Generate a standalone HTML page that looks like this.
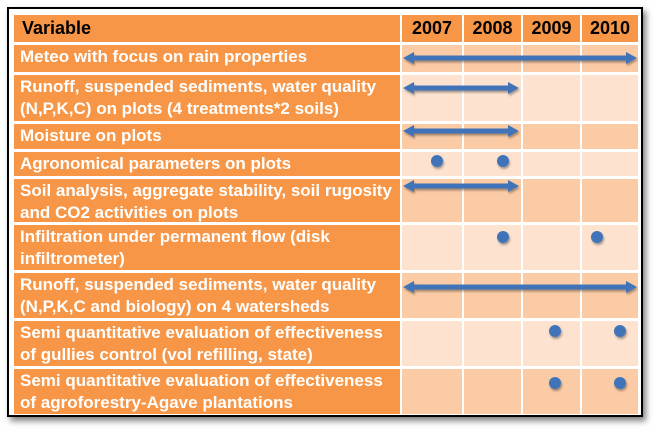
<!DOCTYPE html>
<html><head><style>
body{margin:0;width:657px;height:432px;background:#fff;position:relative;overflow:hidden;font-family:"Liberation Sans",sans-serif;}
.frame{position:absolute;left:7px;top:7px;width:632px;height:406px;border:2px solid #000;box-shadow:3px 4px 6px rgba(0,0,0,0.5);background:#fff;}
.c{position:absolute;box-sizing:border-box;white-space:nowrap;overflow:hidden;}
.h{background:#F79646;color:#000;font-weight:bold;font-size:18px;}
.v{background:#F79646;color:#fff;font-weight:bold;font-size:17px;line-height:22px;padding:1px 0 0 6px;}
.o{background:#FBCBA5;}
.e{background:#FDE3CF;}
</style></head><body>
<div class="frame"></div>
<div id="t"></div>
<svg width="657" height="432" style="position:absolute;left:0;top:0">
<defs><filter id="s"><feDropShadow dx="1" dy="2" stdDeviation="1" flood-opacity="0.35"/></filter></defs>
<g fill="#3F73B8" stroke="#3F73B8" filter="url(#s)">
<g id="arrows"></g>
</g>
</svg>
<script>
var cols=[[14,400],[402,462],[464,521],[523,580],[582,638]];
var rows=[[15,42],[45,72],[75,121],[124,149],[152,176],[179,222],[225,270],[273,318],[321,366],[369,414]];
var labels=["Meteo with focus on rain properties","Runoff, suspended sediments, water quality<br>(N,P,K,C) on plots (4 treatments*2 soils)","Moisture on plots","Agronomical parameters on plots","Soil analysis, aggregate stability, soil rugosity<br>and CO2 activities on plots","Infiltration under permanent flow (disk<br>infiltrometer)","Runoff, suspended sediments, water quality<br>(N,P,K,C and biology) on 4 watersheds","Semi quantitative evaluation of effectiveness<br>of gullies control (vol refilling, state)","Semi quantitative evaluation of effectiveness<br>of agroforestry-Agave plantations"];
var years=["Variable","2007","2008","2009","2010"];
var h="";
rows.forEach(function(r,i){cols.forEach(function(c,j){
 var st="left:"+c[0]+"px;top:"+r[0]+"px;width:"+(c[1]-c[0])+"px;height:"+(r[1]-r[0])+"px;";
 if(i==0){h+='<div class="c h" style="'+st+'line-height:'+(r[1]-r[0])+'px;'+(j==0?'padding-left:8px;':'text-align:center;')+'">'+years[j]+'</div>';}
 else if(j==0){h+='<div class="c v" style="'+st+'">'+labels[i-1]+'</div>';}
 else{h+='<div class="c '+(i%2?'o':'e')+'" style="'+st+'"></div>';}
});});
document.getElementById('t').innerHTML=h;
var a=[[403,637,58],[403,519,88],[403,519,131],[403,519,186],[403,637,287]];
var s="";
a.forEach(function(p){var x1=p[0],x2=p[1],y=p[2];
 s+='<line x1="'+(x1+8)+'" y1="'+y+'" x2="'+(x2-8)+'" y2="'+y+'" stroke-width="5"/>';
 s+='<polygon stroke="none" points="'+x1+','+y+' '+(x1+11)+','+(y-6)+' '+(x1+11)+','+(y+6)+'"/>';
 s+='<polygon stroke="none" points="'+x2+','+y+' '+(x2-11)+','+(y-6)+' '+(x2-11)+','+(y+6)+'"/>';});
[[437,161],[503,161],[503,237],[597,237],[555,331],[620,331],[555,383],[620,383]].forEach(function(d){
 s+='<circle stroke="none" cx="'+d[0]+'" cy="'+d[1]+'" r="6"/>';});
document.getElementById('arrows').innerHTML=s;
</script>
</body></html>
